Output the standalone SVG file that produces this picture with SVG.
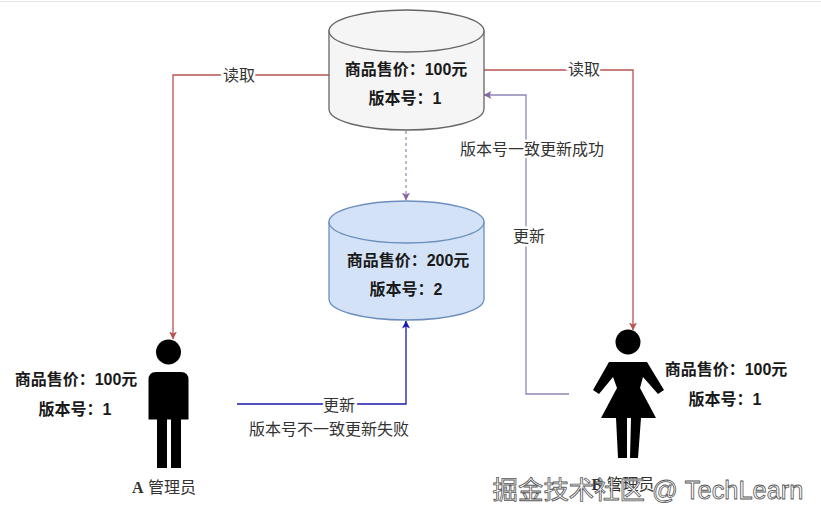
<svg xmlns="http://www.w3.org/2000/svg" width="821" height="521" viewBox="0 0 821 521">
<style>
text{font-family:"Liberation Sans","Noto Sans CJK SC",sans-serif;font-size:16px;fill:#333;text-anchor:middle}
.b{font-weight:bold;fill:#1a1a1a}
.c{fill:none;stroke-width:1.3}
.w{stroke:#fff;stroke-width:5px;paint-order:stroke}
</style>
<defs>
<marker id="mr" markerWidth="9" markerHeight="9" refX="7.500" refY="4" orient="auto" markerUnits="userSpaceOnUse"><path d="M0 0L8 4L0 8L2 4Z" fill="#b85450"/></marker>
<marker id="mp" markerWidth="9" markerHeight="9" refX="7.500" refY="4" orient="auto" markerUnits="userSpaceOnUse"><path d="M0 0L8 4L0 8L2 4Z" fill="#8466a0"/></marker>
<marker id="mb" markerWidth="9" markerHeight="9" refX="7.500" refY="4" orient="auto" markerUnits="userSpaceOnUse"><path d="M0 0L8 4L0 8L2 4Z" fill="#1a1ab0"/></marker>
</defs>
<rect width="821" height="521" fill="#fff"/>
<rect x="0" y="1" width="821" height="1" fill="#e8e8e8"/>
<g id="connectors">
<path class="c" d="M329 75H173V339" stroke="#b85450" marker-end="url(#mr)"/>
<path class="c" d="M484 70H633V330" stroke="#b85450" marker-end="url(#mr)"/>
<path class="c" d="M569 394H526V95H484" stroke="#8f85b5" marker-end="url(#mp)"/>
<path class="c" d="M406 131V200" stroke="#a58bb5" stroke-dasharray="3 3" marker-end="url(#mp)"/>
<path class="c" d="M237 404H406V321" stroke="#1a1ab0" marker-end="url(#mb)"/>
</g>
<g id="edge-labels">
<text class="w" x="239" y="81">读取</text>
<text class="w" x="584" y="75">读取</text>
<text class="w" x="532" y="155">版本号一致更新成功</text>
<text class="w" x="529" y="242">更新</text>
<text class="w" x="339" y="411">更新</text>
<text x="329" y="435">版本号不一致更新失败</text>
</g>
<g id="db-top">
<path d="M329 31V109C329 121 363 130 406.500 130S484 121 484 109V31Z" fill="#f5f5f5" stroke="#666" stroke-width="1.300"/>
<ellipse cx="406.500" cy="31" rx="77.500" ry="21" fill="#f5f5f5" stroke="#666" stroke-width="1.300"/>
<text class="b" x="406" y="75">商品售价：100元</text>
<text class="b" x="405" y="104">版本号：1</text>
</g>
<g id="db-new">
<path d="M329 222V299C329 311 363 320 406.500 320S484 311 484 299V222Z" fill="#d3e2f7" stroke="#6c8ebf" stroke-width="1.300"/>
<ellipse cx="406.500" cy="222" rx="77.500" ry="21" fill="#d3e2f7" stroke="#6c8ebf" stroke-width="1.300"/>
<text class="b" x="408" y="266">商品售价：200元</text>
<text class="b" x="406" y="295">版本号：2</text>
</g>
<g id="admin-a">
<circle cx="168.500" cy="352" r="12.500" fill="#000"/>
<path d="M156 372H181Q188.500 372 188.500 380V419.500H181V468H171V419.500H167V468H157V419.500H148.500V380Q148.500 372 156 372Z" fill="#000"/>
<text class="b" x="76" y="385">商品售价：100元</text>
<text class="b" x="75" y="415">版本号：1</text>
<text x="164" y="493"><tspan style="font-family:'Liberation Serif';font-weight:bold">A</tspan> 管理员</text>
</g>
<g id="admin-b">
<circle cx="628" cy="342" r="12.500" fill="#000"/>
<path d="M609 362H647L664 390L658 394L643 377L640 388L656 418H641L638 458H630L631 418H627L627 458H618L616 418H601L617 388L613 377L599 394L593 390Z" fill="#000"/>
<text class="b" x="726" y="375">商品售价：100元</text>
<text class="b" x="725" y="405">版本号：1</text>
<text x="623" y="490"><tspan style="font-family:'Liberation Serif';font-weight:bold">B</tspan> 管理员</text>
</g>
<text x="648" y="499" style="font-size:25.400px;fill:#fff;stroke:#555;stroke-width:.8px">掘金技术社区 @ TechLearn</text>
</svg>
